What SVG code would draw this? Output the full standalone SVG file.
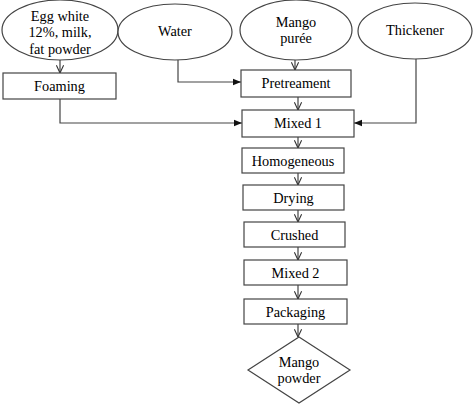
<svg xmlns="http://www.w3.org/2000/svg" width="474" height="407" viewBox="0 0 474 407">
<defs>
<marker id="open" viewBox="0 0 10 10" refX="9.5" refY="5" markerWidth="9" markerHeight="9" markerUnits="userSpaceOnUse" orient="auto">
<path d="M1,1 L9.5,5 L1,9" fill="none" stroke="#333" stroke-width="1.2"/>
</marker>
<marker id="fill" viewBox="0 0 10 10" refX="10" refY="5" markerWidth="8" markerHeight="8" markerUnits="userSpaceOnUse" orient="auto">
<path d="M0,1 L10,5 L0,9 Z" fill="#111"/>
</marker>
</defs>
<style>
.s{fill:#fff;stroke:#444;stroke-width:1.2}
.t{font-family:"Liberation Serif","Times New Roman",serif;font-size:14.3px;fill:#000;text-anchor:middle}
.c{fill:none;stroke:#444;stroke-width:1.2}
</style>
<rect width="474" height="407" fill="#fff"/>
<g id="connectors">
<path class="c" d="M60,60 V73" marker-end="url(#open)"/>
<path class="c" d="M178,60 V82 H241" marker-end="url(#fill)"/>
<path class="c" d="M295,60 V70" marker-end="url(#open)"/>
<path class="c" d="M60,99 V123 H242" marker-end="url(#fill)"/>
<path class="c" d="M416,58 V123 H354" marker-end="url(#fill)"/>
<path class="c" d="M298,97 V110" marker-end="url(#open)"/>
<path class="c" d="M298,137 V148" marker-end="url(#open)"/>
<path class="c" d="M298,173 V185" marker-end="url(#open)"/>
<path class="c" d="M298,210 V222" marker-end="url(#open)"/>
<path class="c" d="M298,247 V260" marker-end="url(#open)"/>
<path class="c" d="M298,285 V299" marker-end="url(#open)"/>
<path class="c" d="M298,324 V337" marker-end="url(#open)"/>
</g>
<g id="egg"><ellipse class="s" cx="60" cy="30" rx="58" ry="30"/>
<text class="t" x="60" y="21">Egg white</text><text class="t" x="60" y="37">12%, milk,</text><text class="t" x="60" y="54">fat powder</text></g>
<g id="water"><ellipse class="s" cx="175" cy="32" rx="57" ry="28"/><text class="t" x="175" y="36">Water</text></g>
<g id="mango"><ellipse class="s" cx="296" cy="30" rx="56" ry="30"/><text class="t" x="296" y="27">Mango</text><text class="t" x="296" y="43">purée</text></g>
<g id="thickener"><ellipse class="s" cx="415" cy="31" rx="57" ry="28"/><text class="t" x="415" y="35">Thickener</text></g>
<g id="foaming"><rect class="s" x="3" y="73" width="113" height="26"/><text class="t" x="59.5" y="91">Foaming</text></g>
<g id="pretreament"><rect class="s" x="241" y="70" width="110" height="27"/><text class="t" x="296" y="88">Pretreament</text></g>
<g id="mixed1"><rect class="s" x="242" y="110" width="112" height="27"/><text class="t" x="298" y="128">Mixed 1</text></g>
<g id="homogeneous"><rect class="s" x="242" y="148" width="102" height="25"/><text class="t" x="293" y="166">Homogeneous</text></g>
<g id="drying"><rect class="s" x="243" y="185" width="101" height="25"/><text class="t" x="293.5" y="203">Drying</text></g>
<g id="crushed"><rect class="s" x="244" y="222" width="101" height="25"/><text class="t" x="294.5" y="240">Crushed</text></g>
<g id="mixed2"><rect class="s" x="244" y="260" width="103" height="25"/><text class="t" x="295.5" y="278">Mixed 2</text></g>
<g id="packaging"><rect class="s" x="244" y="299" width="103" height="25"/><text class="t" x="295.5" y="317">Packaging</text></g>
<g id="mangopowder"><polygon class="s" points="299,337 350,370 299,403 248,370"/><text class="t" x="299" y="367">Mango</text><text class="t" x="299" y="383">powder</text></g>
</svg>
